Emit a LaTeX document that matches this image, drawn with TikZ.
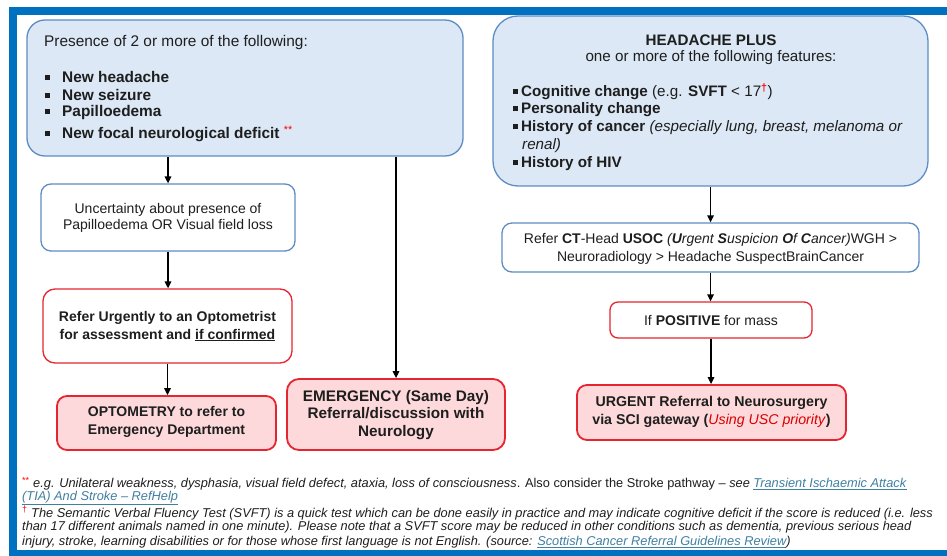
\documentclass[tikz,border=0pt]{standalone}
\usepackage{fontspec}
\setmainfont{Liberation Sans}
\usetikzlibrary{arrows.meta}
\definecolor{frameblue}{HTML}{0070C0}
\definecolor{bfill}{HTML}{DCE8F5}
\definecolor{bline}{HTML}{5E8CC4}
\definecolor{rline}{HTML}{E52630}
\definecolor{rfill}{HTML}{FDD9DB}
\definecolor{txt}{HTML}{1E1E1E}
\definecolor{linkc}{HTML}{3F7FA0}
\newcommand{\bsq}{\raisebox{2.5pt}{\rule{5pt}{5pt}}}
\newcommand{\lnk}[1]{\textcolor{linkc}{\underline{#1}}}
\tikzset{
  bluebig/.style={draw=bline, fill=bfill, line width=1.3pt},
  bluebox/.style={draw=bline, fill=white, line width=1.3pt, rounded corners=10pt},
  redbox/.style={draw=rline, fill=white, line width=1.3pt, rounded corners=10pt},
  redfill/.style={draw=rline, fill=rfill, line width=1.8pt, rounded corners=10pt},
  lbl/.style={text=txt, align=center, inner sep=0pt},
  lft/.style={text=txt, anchor=west, inner sep=0pt},
  arr/.style={line width=1.4pt, -{Triangle[width=6.5pt,length=7pt]}},
  ln/.style={line width=1.4pt},
}
\begin{document}
\begin{tikzpicture}[x=1pt,y=-1pt]
\useasboundingbox (0,0) rectangle (947,556);
\fill[white] (0,0) rectangle (947,556);
% frame
\fill[frameblue] (9,7) rectangle (947,15);
\fill[frameblue] (9,7) rectangle (17,556);
\fill[frameblue] (9,550) rectangle (947,556);

% Box A
\node[bluebig, rounded corners=18pt, minimum width=436pt, minimum height=136pt] (a) at (245,88) {};
\begin{scope}[every node/.append style={font=\fontsize{15.4}{18}\selectfont}]
\node[lft] (a0) at (44,43) {Presence of 2 or more of the following:};
\node[lft] (a1) at (45,77) {\bsq\hspace{12pt}\textbf{New headache}};
\node[lft] (a2) at (45,95) {\bsq\hspace{12pt}\textbf{New seizure}};
\node[lft] (a3) at (45,113) {\bsq\hspace{12pt}\textbf{Papilloedema}};
\node[lft] (a4) at (45,134) {\bsq\hspace{12pt}\textbf{New focal neurological deficit} \textcolor{red}{\textsuperscript{**}}};
\end{scope}

% Box B
\node[bluebig, rounded corners=25pt, minimum width=435pt, minimum height=170pt] (b) at (710.5,101) {};
\begin{scope}[every node/.append style={font=\fontsize{15.2}{18}\selectfont}]
\node[lbl] (b0) at (711,40) {\textbf{HEADACHE PLUS}};
\node[lbl] (b00) at (711,58) {one or more of the following features:};
\node[lft] (b1) at (513,92) {\bsq\hspace{3pt}\textbf{Cognitive change} (e.g. \textbf{SVFT} < 17\textsuperscript{\textcolor{red}{\textbf{†}}})};
\node[lft] (b2) at (513,110) {\bsq\hspace{3pt}\textbf{Personality change}};
\node[lft] (b3) at (513,128) {\bsq\hspace{3pt}\textbf{History of cancer} \textit{(especially lung, breast, melanoma or}};
\node[lft] (b3b) at (522,146) {\textit{renal)}};
\node[lft] (b4) at (513,164) {\bsq\hspace{3pt}\textbf{History of HIV}};
\end{scope}

% left column
\node[bluebox, minimum width=254pt, minimum height=67pt] (c) at (168,217.5) {};
\node[lbl, font=\fontsize{14}{16.5}\selectfont] (ct) at (168,218) {Uncertainty about presence of\\Papilloedema OR Visual field loss};

\node[redbox, rounded corners=12pt, minimum width=249pt, minimum height=74pt] (d) at (167.5,326) {};
\node[lbl, font=\fontsize{14}{18}\selectfont] (dt) at (167.5,326) {\textbf{Refer Urgently to an Optometrist}\\\textbf{for assessment and \underline{if confirmed}}};

\node[redfill, minimum width=219pt, minimum height=54pt] (e) at (166.5,423) {};
\node[lbl, font=\fontsize{14}{18}\selectfont] (et) at (166.5,422) {\textbf{OPTOMETRY to refer to}\\\textbf{Emergency Department}};

\node[redfill, rounded corners=12pt, minimum width=218pt, minimum height=71pt] (f) at (396,414.5) {};
\node[lbl, font=\fontsize{15.3}{17.5}\selectfont] (ft) at (396,415) {\textbf{EMERGENCY (Same Day)}\\\textbf{Referral/discussion with}\\\textbf{Neurology}};

% right column
\node[bluebox, minimum width=417pt, minimum height=49pt] (g) at (710.5,247.5) {};
\node[lbl, font=\fontsize{14}{18}\selectfont] (gt) at (710.5,249) {Refer \textbf{CT}-Head \textbf{USOC} \textit{(\textbf{U}rgent \textbf{S}uspicion \textbf{O}f \textbf{C}ancer)}WGH >\\Neuroradiology > Headache SuspectBrainCancer};

\node[redbox, rounded corners=8pt, minimum width=202pt, minimum height=36pt] (h) at (711,320) {};
\node[lbl, font=\fontsize{14}{18}\selectfont] (ht) at (711,321) {If \textbf{POSITIVE} for mass};

\node[redfill, minimum width=269pt, minimum height=55pt] (i) at (711.5,412.5) {};
\node[lbl, font=\fontsize{14.2}{17.5}\selectfont] (it) at (711.5,412) {\textbf{URGENT Referral to Neurosurgery}\\\textbf{via SCI gateway (}\textcolor{red!85!black}{\textit{Using USC priority}}\textbf{)}};

% connectors
\draw[arr] (a.south -| c.north) -- (c.north);
\draw[arr] (c.south) -- (d.north -| c.south);
\draw[arr] (d.south) -- (e.north -| d.south);
\draw[arr] (a.south -| f.north) -- (f.north);
\draw[arr] (b.south) -- (g.north -| b.south);
\draw[arr] (g.south) -- (h.north -| g.south);
\draw[arr] (h.south) -- (i.north -| h.south);

% footnotes
\begin{scope}[every node/.append style={font=\fontsize{12.8}{14}\selectfont}]
\node[lft] (n1) at (22,484) {\textcolor{red}{\textsuperscript{**}} \textit{e.g. Unilateral weakness, dysphasia, visual field defect, ataxia, loss of consciousness}. Also consider the Stroke pathway – \textit{see} \lnk{\textit{Transient Ischaemic Attack}}};
\node[lft] (n2) at (22,498) {\lnk{\textit{(TIA) And Stroke – RefHelp}}};
\node[lft] (n3) at (22,513) {\textcolor{red}{\textsuperscript{†}} \textit{The Semantic Verbal Fluency Test (SVFT) is a quick test which can be done easily in practice and may indicate cognitive deficit if the score is reduced (i.e. less}};
\node[lft] (n4) at (22,527.5) {\textit{than 17 different animals named in one minute). Please note that a SVFT score may be reduced in other conditions such as dementia, previous serious head}};
\node[lft] (n5) at (22,542) {\textit{injury, stroke, learning disabilities or for those whose first language is not English. (source: \lnk{Scottish Cancer Referral Guidelines Review})}};
\end{scope}
\end{tikzpicture}
\end{document}
